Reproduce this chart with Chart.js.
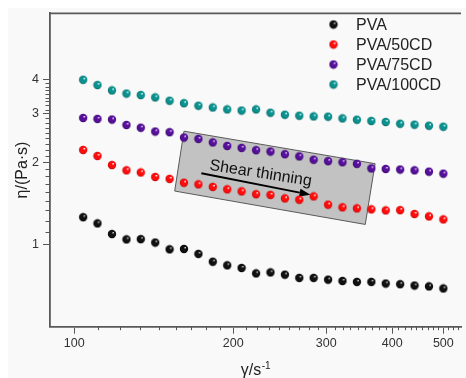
<!DOCTYPE html>
<html>
<head>
<meta charset="utf-8">
<script src="https://cdn.jsdelivr.net/npm/chart.js@4/dist/chart.umd.min.js"></script>
<style>
  html, body { margin: 0; padding: 0; background: #ffffff; }
  canvas { display: block; }
</style>
</head>
<body>
<canvas id="c" width="466" height="378"></canvas>
<script>
// ---- data ----
const shearRate = [104, 110.7, 117.9, 125.6, 133.7, 142.4, 151.6, 161.4, 171.9, 183.0, 194.9, 207.5, 221.0,
                   235.3, 250.6, 266.8, 284.1, 302.5, 322.1, 343.0, 365.3, 388.9, 414.2, 441.0, 469.6, 500.0];
const pva      = [1.257, 1.193, 1.091, 1.043, 1.045, 1.016, 0.959, 0.962, 0.923, 0.864, 0.838, 0.820, 0.783,
                  0.790, 0.775, 0.754, 0.754, 0.743, 0.735, 0.729, 0.729, 0.719, 0.715, 0.707, 0.702, 0.690];
const pva50    = [2.214, 2.105, 1.951, 1.865, 1.832, 1.764, 1.736, 1.681, 1.658, 1.623, 1.590, 1.562, 1.526,
                  1.517, 1.473, 1.457, 1.498, 1.397, 1.366, 1.354, 1.343, 1.331, 1.334, 1.292, 1.266, 1.234];
const pva75    = [2.899, 2.877, 2.862, 2.733, 2.671, 2.587, 2.572, 2.459, 2.431, 2.360, 2.290, 2.253, 2.210,
                  2.186, 2.137, 2.098, 2.040, 2.015, 1.998, 1.970, 1.896, 1.887, 1.878, 1.865, 1.845, 1.814];
const pva100   = [4.00, 3.826, 3.657, 3.562, 3.518, 3.447, 3.353, 3.283, 3.215, 3.167, 3.116, 3.087, 3.116,
                  3.030, 2.980, 2.955, 2.938, 2.931, 2.889, 2.857, 2.827, 2.803, 2.763, 2.740, 2.716, 2.694];
const seriesLabels = ['PVA', 'PVA/50CD', 'PVA/75CD', 'PVA/100CD'];
const xTickValues = [100, 200, 300, 400, 500];
const yTickValues = [1, 2, 3, 4];
const annotationText = 'Shear thinning';
// annotation box corners and arrow in data coordinates
const boxCorners = [[161.4, 2.594], [371.3, 1.973], [355.7, 1.183], [155.0, 1.567]];
const arrowFrom = [174.1, 1.821];
const arrowTo = [280.2, 1.519];
const textAnchor = [224.8, 1.752];

const FONT = "'Liberation Sans', Arial, Helvetica, sans-serif";
Chart.defaults.font.family = FONT;

function sphere(base, dark, light) {
  const c = document.createElement('canvas');
  c.width = 10; c.height = 10;
  const g = c.getContext('2d');
  const grad = g.createRadialGradient(6.4, 3.4, 0.2, 5, 5, 4.6);
  grad.addColorStop(0, light);
  grad.addColorStop(0.28, base);
  grad.addColorStop(0.7, base);
  grad.addColorStop(1, dark);
  g.fillStyle = grad;
  g.beginPath(); g.arc(5, 5, 4.2, 0, Math.PI * 2); g.fill();
  return c;
}
const markers = [
  sphere('#111111', '#000000', '#c8c8c8'),
  sphere('#ff0d0d', '#b00000', '#ffffff'),
  sphere('#56109a', '#2c0058', '#e8d8ff'),
  sphere('#0b918e', '#045a58', '#e0ffff')
];
const seriesValues = [pva, pva50, pva75, pva100];

const datasets = seriesValues.map((vals, i) => ({
  label: seriesLabels[i],
  data: shearRate.map((x, k) => ({ x: x, y: vals[k] })),
  pointStyle: markers[i],
  pointRadius: 4,
  showLine: false
}));

const decor = {
  id: 'decor',
  beforeDraw(chart) {
    const ctx = chart.ctx;
    ctx.save();
    ctx.fillStyle = '#ffffff';
    ctx.fillRect(0, 0, chart.width, chart.height);
    ctx.fillStyle = '#f9f9f9';
    ctx.fillRect(8, 8, chart.width - 8, chart.height - 8);
    ctx.restore();
  },
  beforeDatasetsDraw(chart) {
    const ctx = chart.ctx, xs = chart.scales.x, ys = chart.scales.y;
    const P = (p) => [xs.getPixelForValue(p[0]), ys.getPixelForValue(p[1])];
    ctx.save();
    // grey box
    ctx.beginPath();
    boxCorners.forEach((c, i) => { const p = P(c); if (i === 0) ctx.moveTo(p[0], p[1]); else ctx.lineTo(p[0], p[1]); });
    ctx.closePath();
    ctx.fillStyle = '#c2c2c2';
    ctx.fill();
    ctx.strokeStyle = '#5a5a5a';
    ctx.lineWidth = 1;
    ctx.stroke();
    // text
    const t = P(textAnchor);
    ctx.translate(t[0], t[1]);
    ctx.rotate(9 * Math.PI / 180);
    ctx.fillStyle = '#111111';
    ctx.font = '16px ' + FONT;
    ctx.textAlign = 'center';
    ctx.textBaseline = 'alphabetic';
    ctx.fillText(annotationText, 0, 0);
    ctx.setTransform(1, 0, 0, 1, 0, 0);
    // arrow
    const a = P(arrowFrom), b = P(arrowTo);
    const ang = Math.atan2(b[1] - a[1], b[0] - a[0]);
    const hl = 11, hw = 4;
    const bx = b[0] - hl * Math.cos(ang), by = b[1] - hl * Math.sin(ang);
    ctx.strokeStyle = '#000';
    ctx.lineWidth = 2;
    ctx.beginPath(); ctx.moveTo(a[0], a[1]); ctx.lineTo(bx, by); ctx.stroke();
    ctx.fillStyle = '#000';
    ctx.beginPath();
    ctx.moveTo(b[0], b[1]);
    ctx.lineTo(bx + hw * Math.sin(ang), by - hw * Math.cos(ang));
    ctx.lineTo(bx - hw * Math.sin(ang), by + hw * Math.cos(ang));
    ctx.closePath(); ctx.fill();
    ctx.restore();
  },
  afterDraw(chart) {
    const ctx = chart.ctx, xs = chart.scales.x, ys = chart.scales.y, ca = chart.chartArea;
    ctx.save();
    // minor ticks
    ctx.strokeStyle = '#555';
    ctx.lineWidth = 1;
    ctx.beginPath();
    for (const a of xTickValues) {
      for (let k = 1; k <= 8; k++) {
        const v = a + k * 100 / 9;
        if (v > xs.max) break;
        const px = Math.round(xs.getPixelForValue(v)) + 0.5;
        ctx.moveTo(px, ca.bottom); ctx.lineTo(px, ca.bottom + 3.5);
      }
    }
    for (let a = 1; a < 4; a++) {
      for (let k = 1; k <= 8; k++) {
        const py = Math.round(ys.getPixelForValue(a + k / 9)) + 0.5;
        ctx.moveTo(ca.left, py); ctx.lineTo(ca.left - 4.5, py);
      }
    }
    ctx.stroke();
    // top frame
    ctx.strokeStyle = '#595959';
    ctx.lineWidth = 1.8;
    ctx.beginPath(); ctx.moveTo(ca.left - 0.9, ca.top); ctx.lineTo(ca.right, ca.top); ctx.stroke();
    // legend
    ctx.font = '16px ' + FONT;
    ctx.textAlign = 'left';
    ctx.textBaseline = 'middle';
    ctx.fillStyle = '#222';
    chart.data.datasets.forEach((ds, i) => {
      const y = 24.5 + i * 20;
      ctx.drawImage(ds.pointStyle, 333.5 - 5, y - 5);
      ctx.fillText(ds.label, 356, y + 1);
    });
    // axis titles
    ctx.fillStyle = '#222';
    ctx.font = '16px ' + FONT;
    ctx.textBaseline = 'alphabetic';
    const main = 'γ/s', sup = '-1';
    const wMain = ctx.measureText(main).width;
    ctx.font = '10px ' + FONT;
    const wSup = ctx.measureText(sup).width;
    const cx = (ca.left + ca.right) / 2;
    const x0 = cx - (wMain + wSup) / 2;
    ctx.font = '16px ' + FONT;
    ctx.textAlign = 'left';
    ctx.fillText(main, x0, 375);
    ctx.font = '10px ' + FONT;
    ctx.fillText(sup, x0 + wMain + 0.5, 368.5);
    ctx.translate(27, (ca.top + ca.bottom) / 2);
    ctx.rotate(-Math.PI / 2);
    ctx.font = '16px ' + FONT;
    ctx.textAlign = 'center';
    ctx.fillText('η/(Pa·s)', 0, 0);
    ctx.restore();
  }
};

new Chart(document.getElementById('c'), {
  type: 'scatter',
  data: { datasets: datasets },
  options: {
    responsive: false,
    animation: false,
    devicePixelRatio: 1,
    layout: { padding: { top: 13.3, left: 0, right: 0, bottom: 0 } },
    plugins: { legend: { display: false }, tooltip: { enabled: false } },
    scales: {
      x: {
        type: 'logarithmic',
        min: 90, max: 540,
        afterBuildTicks: (s) => { s.ticks = xTickValues.map(v => ({ value: v })); },
        afterFit: (s) => { s.height = 51.3; },
        ticks: { autoSkip: false, maxRotation: 0, padding: 2.5, color: '#333',
                 font: { size: 12.5 }, callback: (v) => String(v) },
        grid: { display: true, drawOnChartArea: false, drawTicks: true, tickLength: 7,
                color: '#555', tickColor: '#555', tickWidth: 1 },
        border: { display: true, color: '#595959', width: 1.8 }
      },
      y: {
        type: 'logarithmic',
        min: 0.5, max: 7,
        afterBuildTicks: (s) => { s.ticks = yTickValues.map(v => ({ value: v })); },
        afterFit: (s) => { s.width = 50; },
        ticks: { autoSkip: false, padding: 4, color: '#333',
                 font: { size: 12.5 }, callback: (v) => String(v) },
        grid: { display: true, drawOnChartArea: false, drawTicks: true, tickLength: 7,
                color: '#555', tickColor: '#555', tickWidth: 1 },
        border: { display: true, color: '#595959', width: 1.8 }
      }
    }
  },
  plugins: [decor]
});
</script>
</body>
</html>
